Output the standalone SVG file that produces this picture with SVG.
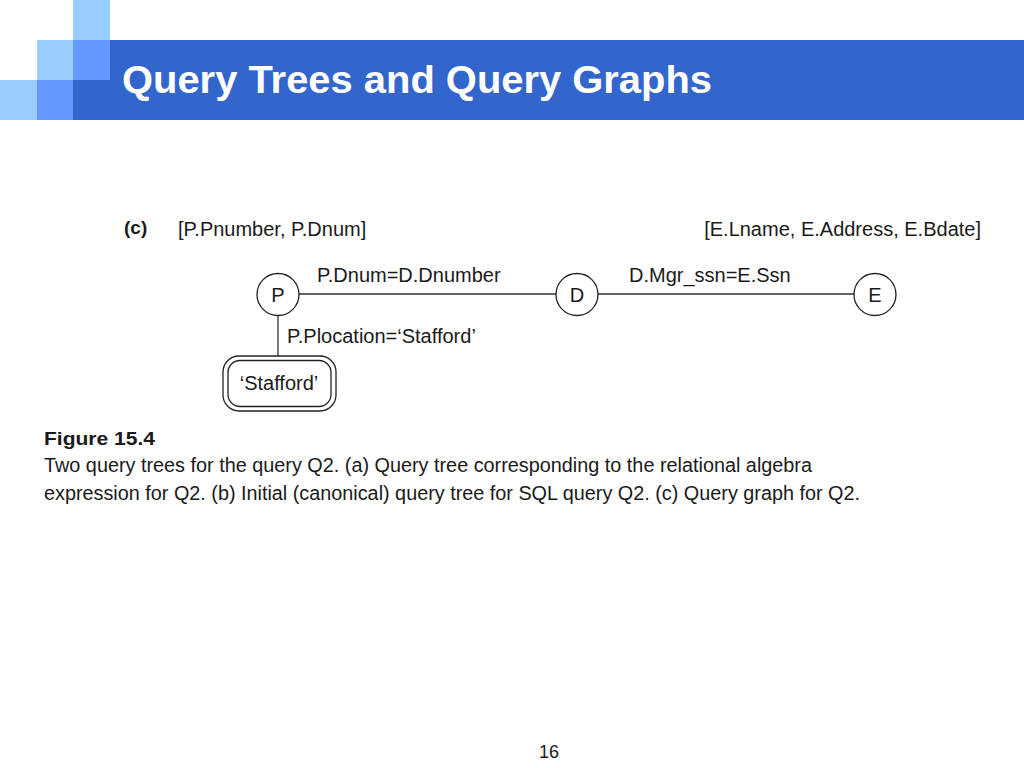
<svg xmlns="http://www.w3.org/2000/svg" width="1024" height="768" viewBox="0 0 1024 768">
<style>
.t{font-family:"Liberation Sans",Arial,sans-serif;fill:#1a1a1a}
.node circle{fill:#fff;stroke:#222;stroke-width:1.3}
.edge{stroke:#333;stroke-width:1.3;fill:none}
.lbl{font-size:20px}
.cap{font-size:19.5px}
</style>
<rect width="1024" height="768" fill="#fff"/>
<g id="header">
<rect x="73" y="40" width="951" height="80" fill="#3366cc"/>
<rect x="73" y="0" width="37" height="40" fill="#99ccff"/>
<rect x="37" y="40" width="36" height="40" fill="#99ccff"/>
<rect x="73" y="40" width="37" height="40" fill="#6699ff"/>
<rect x="0" y="80" width="37" height="40" fill="#99ccff"/>
<rect x="37" y="80" width="36" height="40" fill="#6699ff"/>
<text x="122" y="93" font-family="Liberation Sans,Arial,sans-serif" font-weight="bold" font-size="38" fill="#fff" textLength="590" lengthAdjust="spacingAndGlyphs">Query Trees and Query Graphs</text>
</g>
<g id="labels">
<text class="t" x="124" y="234" font-size="19" font-weight="bold">(c)</text>
<text class="t lbl" x="178" y="236">[P.Pnumber, P.Dnum]</text>
<text class="t lbl" x="981" y="236" text-anchor="end">[E.Lname, E.Address, E.Bdate]</text>
</g>
<g id="connectors">
<line class="edge" x1="299" y1="294" x2="556" y2="294"/>
<line class="edge" x1="598" y1="294" x2="854" y2="294"/>
<line class="edge" x1="278" y1="316" x2="278" y2="356"/>
<text class="t lbl" x="317" y="282">P.Dnum=D.Dnumber</text>
<text class="t lbl" x="629" y="282">D.Mgr_ssn=E.Ssn</text>
<text class="t lbl" x="287" y="343">P.Plocation=‘Stafford’</text>
</g>
<g id="node-P" class="node">
<circle cx="278" cy="294.5" r="21"/>
<text class="t lbl" x="278" y="301.5" text-anchor="middle">P</text>
</g>
<g id="node-D" class="node">
<circle cx="577" cy="294.5" r="21"/>
<text class="t lbl" x="577" y="301.5" text-anchor="middle">D</text>
</g>
<g id="node-E" class="node">
<circle cx="875" cy="294.5" r="21"/>
<text class="t lbl" x="875" y="301.5" text-anchor="middle">E</text>
</g>
<g id="node-Stafford">
<rect x="223" y="356" width="113" height="55" rx="16" fill="#fff" stroke="#222" stroke-width="1.3"/>
<rect x="228" y="360.5" width="103" height="46" rx="12" fill="none" stroke="#222" stroke-width="1.3"/>
<text class="t lbl" x="279" y="390" text-anchor="middle">‘Stafford’</text>
</g>
<g id="caption">
<text class="t" x="44" y="445" font-size="18" font-weight="bold" textLength="111" lengthAdjust="spacingAndGlyphs">Figure 15.4</text>
<text class="t cap" x="44" y="471.5" textLength="768" lengthAdjust="spacingAndGlyphs">Two query trees for the query Q2. (a) Query tree corresponding to the relational algebra</text>
<text class="t cap" x="44" y="500" textLength="816" lengthAdjust="spacingAndGlyphs">expression for Q2. (b) Initial (canonical) query tree for SQL query Q2. (c) Query graph for Q2.</text>
</g>
<text class="t" x="549" y="758" font-size="18" text-anchor="middle">16</text>
</svg>
